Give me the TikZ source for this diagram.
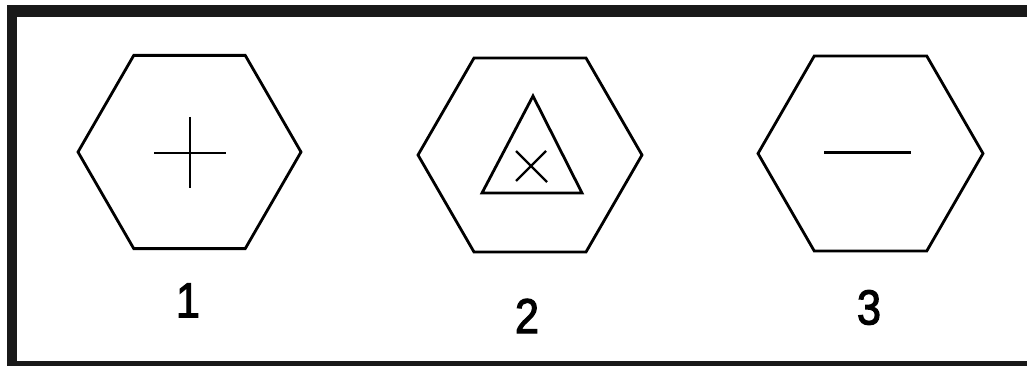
\documentclass[tikz,border=0pt]{standalone}
\usepackage{fontspec}
\setmainfont{Liberation Sans}
\newfontfamily\lblfont[FakeBold=2.6]{Liberation Sans}
\begin{document}
\begin{tikzpicture}[x=1pt,y=-1pt,
  hex/.style={line width=2.8pt,line join=miter},
  symb/.style={line width=2.2pt},
  lbl/.style={font=\lblfont\fontsize{49}{49}\selectfont,inner sep=0pt,xscale=0.88}]
\useasboundingbox (0,0) rectangle (1027,366);
% frame
\fill[black!90] (7,5) rectangle (1027,17);
\fill[black!90] (7,5) rectangle (17,366);
\fill[black!90] (7,361) rectangle (1027,366);
% hexagon 1
\draw[hex] (78,152) -- (133.75,55.4) -- (245.25,55.4) -- (301,152) -- (245.25,248.6) -- (133.75,248.6) -- cycle;
\draw[symb] (154,153) -- (226,153);
\draw[symb] (190,117) -- (190,188);
% hexagon 2
\draw[hex] (418,155) -- (474,58) -- (586,58) -- (642,155) -- (586,252) -- (474,252) -- cycle;
\draw[hex] (533,96) -- (582,193) -- (482,193) -- cycle;
\draw[symb] (516,151) -- (547,182);
\draw[symb] (546,151) -- (516,181);
% hexagon 3
\draw[hex] (758,153.5) -- (814.25,56) -- (926.75,56) -- (983,153.5) -- (926.75,251) -- (814.25,251) -- cycle;
\draw[line width=3pt] (824,153) -- (911,153);
% labels
\node[lbl] (l1) at (188,300.5) {1};
\node[lbl] (l2) at (527,316) {2};
\node[lbl] (l3) at (869,307.5) {3};
\end{tikzpicture}
\end{document}
